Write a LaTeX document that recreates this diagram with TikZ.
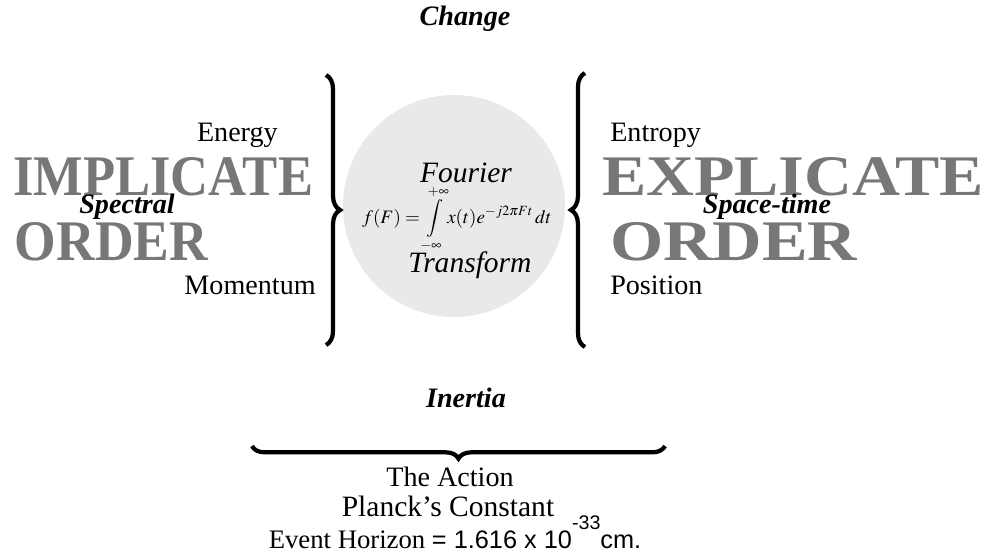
\documentclass[tikz,border=0pt]{standalone}
\usepackage{amsmath}
\usepackage{graphicx}
\usepackage{mathptmx}
\usepackage{fontspec}
\setmainfont{Liberation Serif}
\newfontfamily\arialfont{Liberation Sans}
\usepackage{tikz}
\usetikzlibrary{positioning, decorations.pathreplacing, calc}

\definecolor{ordergray}{HTML}{777777}
\definecolor{circlegray}{HTML}{E9E9E9}

\begin{document}
\begin{tikzpicture}[
    x=0.025cm, y=-0.025cm,
    % Estilo de las palabras grandes
    bigword/.style={
        inner sep=0pt,
        outer sep=0pt,
        text=ordergray,
        font=\bfseries
    },
    % Etiquetas normales
    label/.style={
        inner sep=0pt,
        font=\fontsize{20}{22}\selectfont
    },
    % Etiquetas en negrita italica
    boldlabel/.style={
        inner sep=0pt,
        font=\fontsize{20}{22}\selectfont\bfseries\itshape
    },
    % Llaves
    bracebig/.style={
        decorate,
        decoration={brace, amplitude=10pt},
        line width=3pt
    }
]
    \useasboundingbox (0,0) rectangle (989,555);

    % --- TITULO ---
    \node[boldlabel] (change) at (465,19) {Change};

    % --- CIRCULO CENTRAL ---
    \node[circle, fill=circlegray, minimum size=5.55cm, inner sep=0pt] (circ) at (454,206) {};
    \node[font=\fontsize{21}{23}\selectfont\itshape, inner sep=0pt] (fourier) at (466,173) {Fourier};
    \node[inner sep=0pt, font=\fontsize{13.5}{15}\selectfont] (formula) at (457,219)
        {$f(F)=\displaystyle\int\limits_{-\infty}^{+\infty} x(t)e^{-j2\pi Ft}\,dt$};
    \node[font=\fontsize{21}{23}\selectfont\itshape, inner sep=0pt] (transform) at (470,265) {Transform};

    % --- LADO IZQUIERDO ---
    \node[bigword, anchor=north west] (implicate) at (13,157) {\resizebox{7.5cm}{0.95cm}{IMPLICATE}};
    \node[bigword, anchor=north west] (orderleft) at (15,222) {\resizebox{4.83cm}{0.95cm}{ORDER}};
    \node[boldlabel] (spectral) at (127,207) {Spectral};
    \node[label, anchor=east] (energy) at (278,135) {Energy};
    \node[label, anchor=east] (momentum) at (316,285) {Momentum};

    % --- LADO DERECHO ---
    \node[bigword, anchor=north west] (explicate) at (602,157) {\resizebox{9.55cm}{0.95cm}{EXPLICATE}};
    \node[bigword, anchor=north west] (orderright) at (610,222) {\resizebox{6.18cm}{0.95cm}{ORDER}};
    \node[boldlabel] (spacetime) at (767,207) {Space-time};
    \node[label, anchor=west] (entropy) at (610,135) {Entropy};
    \node[label, anchor=west] (position) at (610,285) {Position};

    % --- LLAVES ---
    \coordinate (lbtop) at (326,75);
    \coordinate (lbbot) at (326,345);
    \coordinate (rbtop) at (585,73);
    \coordinate (rbbot) at (585,347);
    \draw[bracebig] (lbtop) -- (lbbot);
    \draw[bracebig] (rbbot) -- (rbtop);

    % --- PARTE INFERIOR ---
    \node[boldlabel] (inertia) at (466,398) {Inertia};
    \coordinate (bbleft) at (252,446);
    \coordinate (bbright) at (665,446);
    \draw[bracebig, decoration={brace, amplitude=9pt}] (bbright) -- (bbleft);

    \node[label] (action) at (450,477) {The Action};
    \node[label, font=\fontsize{21}{23}\selectfont] (planck) at (448,506) {Planck's Constant};
    \node[label, font=\fontsize{19}{21}\selectfont, anchor=base] (horizon) at (455,548)
        {Event Horizon {\arialfont\fontsize{18}{20}\selectfont= 1.616 x 10\raisebox{0.75em}{\fontsize{14}{14}\selectfont -33}cm.}};

\end{tikzpicture}
\end{document}
